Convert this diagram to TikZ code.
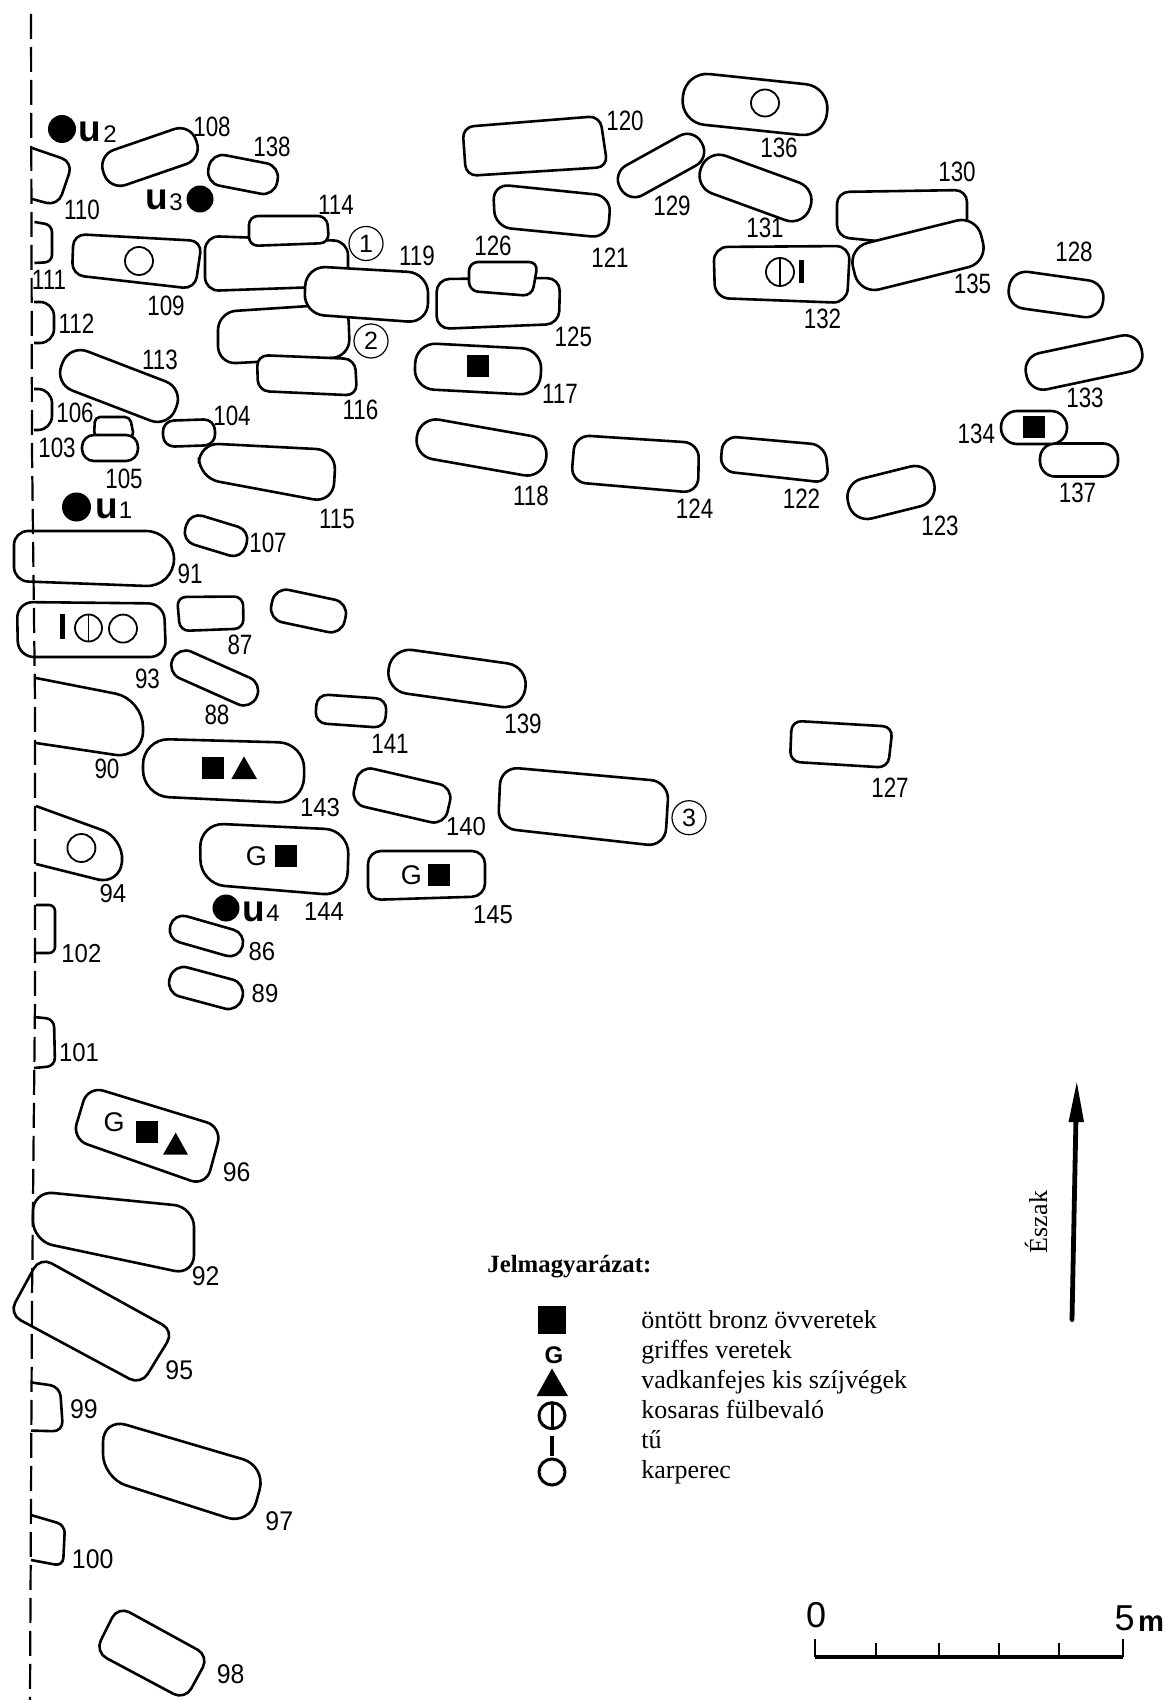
\documentclass[tikz,border=0pt]{standalone}
\usepackage{fontspec}
\setmainfont{Liberation Serif}
\setsansfont{Liberation Sans}
\newfontfamily\lab{Liberation Sans}
\begin{document}
\begin{tikzpicture}[x=0.5pt,y=-0.5pt,
  grave/.style={draw=black,fill=white,line width=1.3pt,line join=round},
  openend/.style={draw=black,line width=1.3pt,line join=round},
  labA/.style={inner sep=0pt,yshift=-0.5pt,font=\lab\fontsize{14}{14}\selectfont},
  labB/.style={inner sep=0pt,yshift=-0.5pt,font=\lab\fontsize{13}{13}\selectfont},
  labC/.style={inner sep=0pt,yshift=-0.5pt,font=\lab\fontsize{13.5}{13.5}\selectfont},
  bigu/.style={inner sep=0pt,font=\lab\bfseries\fontsize{18.5}{18.5}\selectfont},
  subn/.style={inner sep=0pt,font=\lab\fontsize{12}{12}\selectfont},
  gee/.style={inner sep=0pt,font=\lab\fontsize{13.5}{13.5}\selectfont},
  circnum/.style={circle,draw=black,line width=0.6pt,inner sep=0pt,minimum size=17pt,font=\lab\fontsize{12.5}{12.5}\selectfont},
  disc/.style={circle,fill=black,inner sep=0pt},
  legend/.style={inner sep=0pt,anchor=base west,font=\fontsize{13}{13}\selectfont},
  bar/.style={line width=2.4pt,draw=black},
  ring/.style={draw=black,line width=0.9pt}]
\useasboundingbox (0,0) rectangle (1166,1700);
\fill[white] (0,0) rectangle (1166,1700);
% helpers
\newcommand\Q[5]{\draw[grave,rounded corners=#1*0.5pt] #2 -- #3 -- #4 -- #5 -- cycle;}
\newcommand\R[6]{\draw[grave,shift={(#1,#2)},rotate=#5,rounded corners=#6*0.5pt]
  ({-(#3)/2},{-(#4)/2}) -- ({(#3)/2},{-(#4)/2}) -- ({(#3)/2},{(#4)/2}) -- ({-(#3)/2},{(#4)/2}) -- cycle;}
\newcommand\Op[5]{\draw[openend,rounded corners=#1*0.5pt] #2 -- #3 -- #4 -- #5;}
\newcommand\LA[3]{\node[labA] (l#3) at (#1,#2) {\scalebox{.8}[1]{#3}};}
\newcommand\LB[3]{\node[labB] (l#3) at (#1,#2) {\scalebox{.92}[1]{#3}};}
\newcommand\LC[3]{\node[labC] (l#3) at (#1,#2) {\scalebox{.92}[1]{#3}};}
\newcommand\Sq[3]{\fill[black] ({#1-#3/2},{#2-#3/2}) rectangle ({#1+#3/2},{#2+#3/2});}
\newcommand\Rg[3]{\draw[ring] (#1,#2) circle[radius=#3];}
% --- upper left
\Op{12}{(32,148)}{(73,162)}{(58,206)}{(32,199)}
\Op{7}{(34.5,222)}{(52,225)}{(52,262)}{(34.5,263)}
\Op{14}{(34,302)}{(54,302)}{(54,343)}{(34,343)}
\Op{14}{(34,389)}{(52,389)}{(52,430)}{(34,430)}
\R{150}{157}{98}{37}{19}{17}
\R{243}{174.5}{70}{31}{-11}{14}
\Q{12}{(73.5,234)}{(202,241)}{(195,289)}{(72,275)}
\Rg{139}{261}{14}
\Q{14}{(205,236)}{(348,241)}{(348,286)}{(205,291)}
\Q{9}{(249,216)}{(327,216)}{(329,243)}{(249,246)}
\Q{18}{(218,312)}{(348,303.5)}{(350,357)}{(218,364)}
\Q{11}{(257,355)}{(355,359)}{(357,395.5)}{(258,391)}
\Q{20}{(306,266)}{(428,273)}{(428,323)}{(304,314)}
\R{119}{386}{122}{42}{-21}{19}
\draw[grave,rounded corners=2.5pt] (94,437) -- (95,417) -- (130,417) -- (134,437) -- cycle;
\R{110}{448}{56}{26}{0}{12}
\Q{20}{(199,443)}{(336,450)}{(333,503)}{(199,478)}
\R{189}{433}{52}{26}{2}{11}
% --- middle top
\Q{13}{(436.6,279)}{(560,278)}{(559,324)}{(436.6,329)}
\Q{9}{(469,262)}{(538,262)}{(532,296)}{(469,291)}
\R{478}{369}{126}{46}{-3}{20}
\Sq{478}{366}{22}
\R{481.5}{447.5}{131}{40}{-10}{19}
\Q{11}{(462.5,127)}{(600,116)}{(607.6,167)}{(466,176)}
\Q{16}{(493,184)}{(611,196)}{(607.6,238)}{(495,227)}
\R{661}{165.5}{93}{34}{29}{16}
\R{755.5}{188}{116}{40}{-20}{19}
\R{755}{104.5}{145}{51}{-6}{24}
\draw[ring] (765,103) ellipse[x radius=14,y radius=13.5];
\Q{12}{(837,192)}{(967,190)}{(967,250)}{(837,237)}
\Q{14}{(713.6,247)}{(850,246)}{(847,303)}{(715,298)}
\R{918}{255}{132}{48}{14}{20}
\Rg{780}{272}{14}
\draw[ring] (780,258) -- (780,286);
\draw[bar] (801.5,260) -- (801.5,283);
\R{1056}{294.5}{95}{37}{-8}{17}
\R{1084}{362.5}{118}{37}{12}{17}
\R{1079}{460}{78}{33}{0}{15}
\R{1034}{427.5}{66}{33}{0}{16}
\Sq{1034}{427}{22}
\Q{15}{(575,435)}{(699,443)}{(698,493)}{(571,482)}
\Q{14}{(723,436)}{(825,445)}{(829,483)}{(720,471)}
\R{891}{492.5}{88}{41}{14}{19}
% --- middle left
\draw[grave] [rounded corners=7pt] (14,531) -- (60,531) [rounded corners=14pt] -- (174,531) -- (174,587) [rounded corners=7pt] -- (14,581) -- cycle;
\Q{16}{(17,602)}{(164,603.5)}{(166,657)}{(18,657)}
\draw[bar] (62.5,614) -- (62.5,639);
\Rg{88.5}{628}{13.5}
\draw[ring] (88.5,614.5) -- (88.5,641.5);
\Rg{123}{628.6}{14}
\Q{9}{(177,597)}{(243,596.5)}{(243.5,628.6)}{(180,631)}
\R{308.5}{611}{75}{33}{-12}{14}
\R{216}{535.7}{63}{30}{-17}{13}
\R{214.7}{678}{92}{29}{-24}{14}
\R{457}{678.5}{138}{44}{-8}{21}
\R{351}{711}{70}{29}{-4}{11}
\Op{28}{(36,678)}{(143,699)}{(143,759)}{(36,743)}
\Q{26}{(143,738.6)}{(304.6,743)}{(303.6,803.6)}{(143,796)}
\Sq{212.5}{767.5}{22}
\fill[black] (231.4,779) -- (257,779) -- (244,756.4) -- cycle;
\R{402}{795.5}{96}{39}{-13}{14}
\Q{18}{(500.7,766.7)}{(669,781.7)}{(665,846.7)}{(498,828)}
\Q{10}{(791.7,720.7)}{(892.7,726.7)}{(888,767.7)}{(790,761.7)}
\Q{24}{(200,823)}{(349,830)}{(347,896)}{(200.7,884)}
\node[gee] (g1) at (256.4,856) {G};
\Sq{286.4}{856}{22}
\Q{13}{(368,851)}{(485,851)}{(485,896.4)}{(368,900)}
\node[gee] (g2) at (411.4,875) {G};
\Sq{439}{875}{22}
\Op{23}{(36,806)}{(124,838)}{(120,885)}{(36,864)}
\Rg{81.4}{848}{14}
\Op{6}{(36,905)}{(55,905)}{(55,953)}{(36,953)}
\Op{8}{(34,1017)}{(54,1019)}{(55,1066)}{(34,1068)}
\R{206.4}{936}{75}{27}{-16}{13}
\R{206}{988}{75}{30}{-15}{14}
% --- lower left
\Q{16}{(88,1086)}{(222,1127)}{(206,1186)}{(72,1139)}
\node[gee] (g3) at (114,1122) {G};
\Sq{147}{1132}{22}
\fill[black] (175.7,1132.6) -- (188,1154.7) -- (163,1154.7) -- cycle;
\Q{20}{(33,1191)}{(194,1207)}{(194,1275)}{(33,1241)}
\Q{13}{(40,1257)}{(174,1331)}{(141,1385)}{(9,1314)}
\Op{10}{(31,1382.4)}{(60,1386.5)}{(63,1431.4)}{(31,1430.6)}
\Q{24}{(103,1418)}{(266,1466)}{(250,1525)}{(103,1478)}
\Op{8}{(31,1515)}{(65,1525)}{(63,1566)}{(31,1560)}
\Q{13}{(118,1606)}{(209,1656)}{(185,1700)}{(95,1652)}
% --- dashed line
\draw[line width=1.1pt,dash pattern=on 12.5pt off 4pt] (31,14) -- (32,450) -- (35,700) -- (35,1000) -- (32,1300) -- (30,1700);
% --- discs and u labels
\node[disc,minimum size=14pt] (d2) at (62,129) {};
\node[bigu] (u2) at (90,132) {u};
\node[subn] (n2) at (110,134) {2};
\node[disc,minimum size=13.5pt] (d3) at (200,199) {};
\node[bigu] (u3) at (157,200) {u};
\node[subn] (n3) at (176,202) {3};
\node[disc,minimum size=14.5pt] (d1) at (76.5,507) {};
\node[bigu] (u1) at (107,509) {u};
\node[subn] (n1) at (125.5,510.5) {1};
\node[disc,minimum size=13.5pt] (d4) at (226,908) {};
\node[bigu] (u4) at (254,911.4) {u};
\node[subn] (n4) at (273,913.6) {4};
% --- circled numbers
\node[circnum] (c1) at (366,243.5) {1};
\node[circnum] (c2) at (371,341) {2};
\node[circnum] (c3) at (689,817.7) {3};
% --- labels
\LA{212}{126}{108}\LA{272}{146}{138}\LA{82}{209}{110}\LA{336}{204}{114}\LA{417}{255}{119}
\LA{49}{279}{111}\LA{166}{305}{109}\LA{76.5}{323}{112}\LA{160}{359}{113}\LA{75}{412}{106}
\LA{232}{415}{104}\LA{360.5}{409}{116}\LA{57}{447}{103}\LA{124}{478}{105}\LA{337}{518}{115}
\LA{268}{542}{107}\LA{493}{245}{126}\LA{573.4}{336}{125}\LA{560}{393}{117}\LA{531}{495}{118}
\LA{625}{120}{120}\LA{779}{147}{136}\LA{957}{171}{130}\LA{672}{205}{129}\LA{765}{227}{131}
\LA{610}{257}{121}\LA{1074}{251}{128}\LA{972.5}{283}{135}\LA{822.5}{318}{132}\LA{1085}{397}{133}
\LA{976.4}{433}{134}\LA{1077.5}{492}{137}\LA{694.6}{508}{124}\LA{801.5}{498}{122}\LA{940}{525}{123}
\LA{190}{573}{91}\LA{240}{644}{87}\LA{147.5}{677.5}{93}\LA{217}{714}{88}\LA{523}{723}{139}
\LA{390}{743}{141}\LA{107}{768}{90}\LB{320}{806.4}{143}\LB{466}{826}{140}\LA{890}{787}{127}
\LB{113}{893}{94}\LB{324}{911}{144}\LB{493}{913.6}{145}\LB{81.4}{953}{102}\LB{262}{951}{86}
\LB{265}{993}{89}\LB{79}{1052}{101}
\LC{236.7}{1171.4}{96}\LC{205.7}{1275.5}{92}\LC{179.3}{1369}{95}\LC{84}{1408}{99}
\LC{279.3}{1520}{97}\LC{92.7}{1558}{100}\LC{230.7}{1673.5}{98}
% --- legend
\node[inner sep=0pt,anchor=base west,font=\bfseries\fontsize{12.4}{12.4}\selectfont] (title) at (487,1272) {Jelmagyarázat:};
\Sq{552}{1319.5}{28}
\node[inner sep=0pt,font=\lab\bfseries\fontsize{12}{12}\selectfont] (gleg) at (554,1355.5) {G};
\fill[black] (552,1368.4) -- (568,1396) -- (536.6,1396) -- cycle;
\draw[black,line width=1.5pt] (552,1415.7) circle[radius=13];
\draw[black,line width=1.5pt] (552,1402) -- (552,1429);
\draw[black,line width=2.4pt] (552,1435.6) -- (552,1455.5);
\draw[black,line width=1.5pt] (552,1472) circle[radius=13];
\node[legend] (t1) at (641,1328) {öntött bronz övveretek};
\node[legend] (t2) at (641,1358) {griffes veretek};
\node[legend] (t3) at (641,1388) {vadkanfejes kis szíjvégek};
\node[legend] (t4) at (641,1418) {kosaras fülbevaló};
\node[legend] (t5) at (641,1448) {tű};
\node[legend] (t6) at (641,1478) {karperec};
% --- north arrow
\coordinate (arrtail) at (1072,1319.5);
\coordinate (arrneck) at (1076,1116);
\coordinate (arrtip) at (1076.8,1082.3);
\draw[black,line width=2.4pt,line cap=round] (arrtail) -- (arrneck);
\fill[black] (arrtip) -- (1084,1122) -- (1068.5,1122) -- cycle;
\node[inner sep=0pt,rotate=90,font=\fontsize{13}{13}\selectfont] (north) at (1036,1222) {Észak};
% --- scale bar
\coordinate (s0) at (815.3,1639);
\coordinate (s1) at (815.3,1657);
\coordinate (s2) at (1122.5,1657);
\coordinate (s3) at (1122.5,1639);
\draw[black,line width=2pt] (s1) -- (s2);
\draw[black,line width=1pt] (s0) -- (s1) (s2) -- (s3)
  (876,1643) -- (876,1657) (938.7,1643) -- (938.7,1657) (999,1643) -- (999,1657) (1058.6,1643) -- (1058.6,1657);
\node[inner sep=0pt,font=\lab\fontsize{18}{18}\selectfont] (sc0) at (816,1614.7) {0};
\node[inner sep=0pt,font=\lab\fontsize{18}{18}\selectfont] (sc5) at (1124.7,1618) {5};
\node[inner sep=0pt,font=\lab\bfseries\fontsize{14.6}{14.6}\selectfont] (scm) at (1151,1624) {m};
\end{tikzpicture}
\end{document}
